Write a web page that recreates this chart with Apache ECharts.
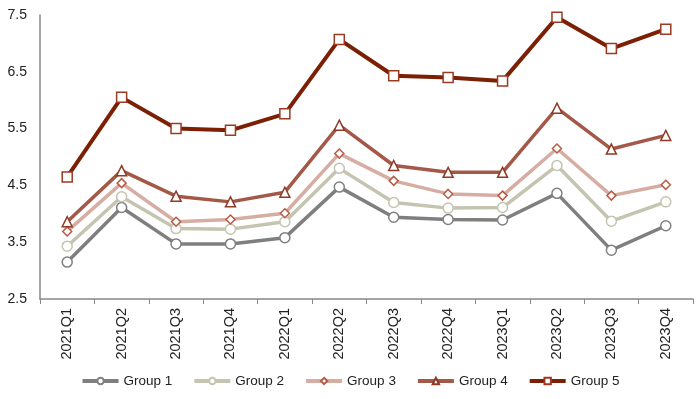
<!DOCTYPE html>
<html>
<head>
<meta charset="utf-8">
<script src="https://cdn.jsdelivr.net/npm/echarts@6/dist/echarts.min.js"></script>
<style>
  html, body { margin: 0; padding: 0; background: #fff; }
  #chart { width: 700px; height: 399px; }
</style>
</head>
<body>
<div id="chart"></div>
<script>
// Quarters on the x axis
const quarters = [
  "2021Q1", "2021Q2", "2021Q3", "2021Q4",
  "2022Q1", "2022Q2", "2022Q3", "2022Q4",
  "2023Q1", "2023Q2", "2023Q3", "2023Q4",
];

// Values
const group1 = [3.15, 4.11, 3.47, 3.47, 3.58, 4.47, 3.94, 3.90, 3.89, 4.36, 3.36, 3.79];
const group2 = [3.43, 4.30, 3.74, 3.73, 3.86, 4.80, 4.20, 4.10, 4.11, 4.85, 3.87, 4.21];
const group3 = [3.69, 4.54, 3.86, 3.90, 4.01, 5.06, 4.58, 4.35, 4.32, 5.15, 4.32, 4.51];
const group4 = [3.86, 4.76, 4.31, 4.21, 4.38, 5.56, 4.85, 4.73, 4.73, 5.86, 5.14, 5.38];
const group5 = [4.65, 6.05, 5.50, 5.47, 5.76, 7.07, 6.43, 6.40, 6.34, 7.46, 6.91, 7.25];

const seriesDefs = [
  { name: "Group 1", data: group1, line: "#7f7f7f", edge: "#7f7f7f", symbol: "circle", size: 10, width: 3.5 },
  { name: "Group 2", data: group2, line: "#c4c4b0", edge: "#c4c4b0", symbol: "circle", size: 10, width: 3.5 },
  { name: "Group 3", data: group3, line: "#d5ada2", edge: "#b85a44", symbol: "diamond", size: 9, width: 3.5 },
  { name: "Group 4", data: group4, line: "#a35848", edge: "#8e3a26", symbol: "triangle", size: 10, width: 3.5 },
  { name: "Group 5", data: group5, line: "#7b1f05", edge: "#9a3a20", symbol: "rect", size: 10, width: 4 },
];

const font = "Liberation Sans, Arial, sans-serif";
const chart = echarts.init(document.getElementById("chart"), null, { renderer: "canvas" });

const option = {
  animation: false,
  textStyle: { fontFamily: font },
  grid: { left: 40, right: 7, top: 15, bottom: 100, containLabel: false },
  legend: {
    bottom: 6,
    left: "center",
    itemWidth: 36,
    itemHeight: 8,
    itemGap: 20,
    textStyle: { fontSize: 13.5, color: "#222", fontFamily: font },
    data: seriesDefs.map((s) => ({ name: s.name, lineStyle: { width: 4 } })),
  },
  xAxis: {
    type: "category",
    data: quarters,
    boundaryGap: true,
    axisLine: { lineStyle: { color: "#888", width: 1.5 } },
    axisTick: { show: true, length: 5, lineStyle: { color: "#888" } },
    axisLabel: {
      rotate: 90,
      color: "#222",
      fontSize: 14.5,
      margin: 9,
      interval: 0,
    },
  },
  yAxis: {
    type: "value",
    min: 2.5,
    max: 7.5,
    interval: 1,
    axisLine: { show: true, lineStyle: { color: "#888", width: 1.5 } },
    axisTick: { show: false },
    splitLine: { show: false },
    axisLabel: {
      color: "#222",
      fontSize: 14,
      margin: 13,
      formatter: (v) => v.toFixed(1),
    },
  },
  series: seriesDefs.map((s) => ({
    name: s.name,
    type: "line",
    data: s.data,
    symbol: s.symbol,
    symbolSize: s.size,
    showAllSymbol: true,
    lineStyle: { color: s.line, width: s.width },
    itemStyle: { color: "#fff", borderColor: s.edge, borderWidth: 1.5 },
    emphasis: { disabled: true },
  })),
};

chart.setOption(option);
</script>
</body>
</html>
